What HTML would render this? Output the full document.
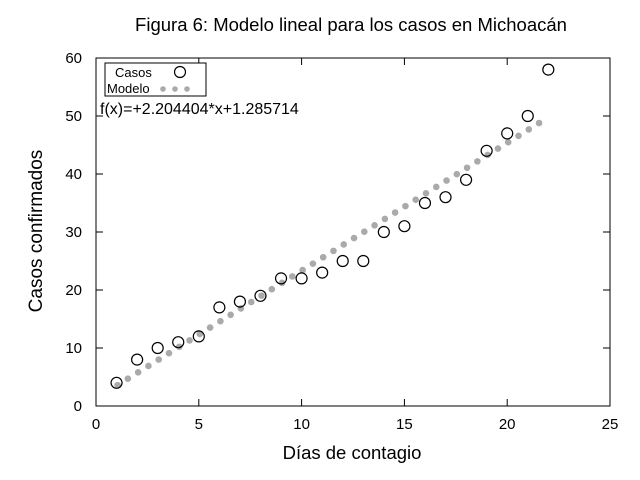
<!DOCTYPE html><html><head><meta charset="utf-8"><style>body{margin:0;background:#fff}svg{display:block;font-family:"Liberation Sans",sans-serif}</style></head><body>
<svg id="s" width="640" height="480" xmlns="http://www.w3.org/2000/svg">
<rect width="640" height="480" fill="#fff"/>
<text x="351" y="31" font-size="18.5" text-anchor="middle">Figura 6: Modelo lineal para los casos en Michoacán</text>
<g id="g"></g>
<rect x="96" y="58" width="514" height="348" fill="none" stroke="#000" stroke-width="1"/>
<rect x="105" y="63" width="101" height="33" fill="#fff" stroke="#000"/>
<text x="115" y="77" font-size="13">Casos</text>
<circle cx="180" cy="72" r="5.5" fill="none" stroke="#000" stroke-width="1.2"/>
<text x="107" y="93" font-size="13">Modelo</text>
<circle cx="163" cy="89" r="2.8" fill="#aaa"/><circle cx="175" cy="89" r="2.8" fill="#aaa"/><circle cx="187" cy="89" r="2.8" fill="#aaa"/>
<text x="100" y="114" font-size="16">f(x)=+2.204404*x+1.285714</text>
<text x="352" y="459" font-size="18.5" text-anchor="middle">Días de contagio</text>
<text transform="translate(42,231) rotate(-90)" font-size="19" text-anchor="middle">Casos confirmados</text>
</svg>
<script>
var g=document.getElementById('g'),h='';
function X(x){return 96+x*20.56}function Y(y){return 406-y*5.8}
for(var i=0;i<=5;i++){var x=X(i*5);h+='<line x1="'+x+'" y1="406" x2="'+x+'" y2="399" stroke="#000"/><line x1="'+x+'" y1="58" x2="'+x+'" y2="65" stroke="#000"/><text x="'+x+'" y="429" font-size="15" text-anchor="middle">'+i*5+'</text>';}
for(var i=0;i<=6;i++){var y=Y(i*10);h+='<line x1="96" y1="'+y+'" x2="103" y2="'+y+'" stroke="#000"/><line x1="610" y1="'+y+'" x2="603" y2="'+y+'" stroke="#000"/><text x="82" y="'+(y+5)+'" font-size="15" text-anchor="end">'+i*10+'</text>';}
for(var x=1.05;x<=21.9;x+=0.5){h+='<circle cx="'+X(x)+'" cy="'+Y(2.204404*x+1.285714)+'" r="3.3" fill="#aaa"/>';}
var d=[4,8,10,11,12,17,18,19,22,22,23,25,25,30,31,35,36,39,44,47,50,58];
d.forEach(function(v,i){h+='<circle cx="'+X(i+1)+'" cy="'+Y(v)+'" r="5.5" fill="none" stroke="#000" stroke-width="1.2"/>';});
g.innerHTML=h;
</script>
</body></html>
